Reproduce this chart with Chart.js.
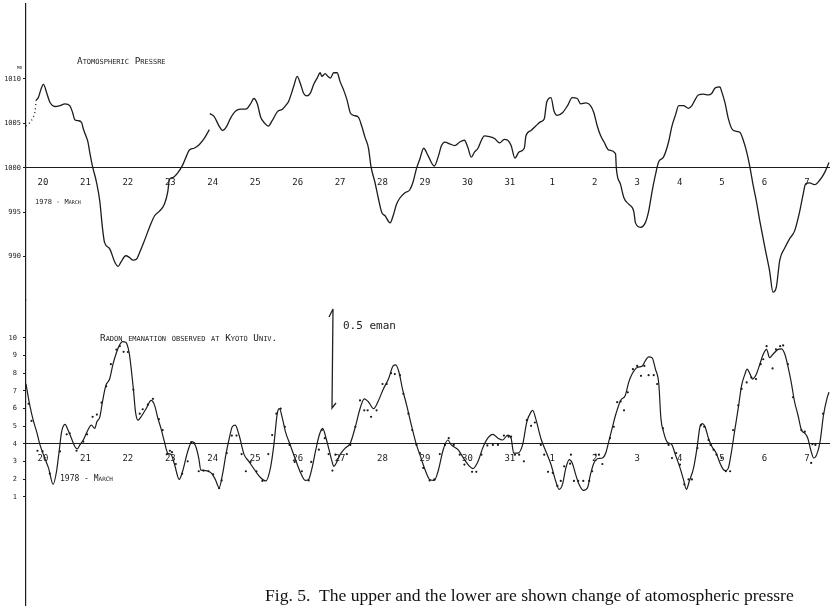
<!DOCTYPE html>
<html>
<head>
<meta charset="UTF-8">
<title>Atomospheric pressure and radon emanation, March 1978</title>
<script src="https://cdn.jsdelivr.net/npm/chart.js"></script>
<style>
    body { margin: 0; background: #fff; }
    #wrap { position: relative; width: 833px; height: 609px; overflow: hidden; background: #fff; }
    #chart { position: absolute; left: 0; top: 0; }
    #marks { position: absolute; left: 0; top: 0; }
    .note { position: absolute; color: #222; white-space: pre; line-height: 1; }
    .sc { font-family: 'DejaVu Sans Mono', monospace; font-variant: small-caps; font-size: 7px; }
    .eman { font-family: 'DejaVu Sans Mono', monospace; font-size: 11px; }
    .caption { font-family: 'Liberation Serif', serif; font-size: 17.6px; color: #111; }
</style>
</head>
<body>
<div id="wrap">
    <canvas id="chart" width="833" height="609"></canvas>
    <svg id="marks" width="833" height="609">
        <path d="M329 317 L333 309 L332 408 L336 403" fill="none" stroke="#222" stroke-width="1.3"/>
    </svg>
    <div class="note sc" style="left:17px; top:64px; font-size:6px;">mb</div>
    <div class="note sc" style="left:77px; top:56px; font-size:9.4px;">Atomospheric Pressre</div>
    <div class="note sc" style="left:35px; top:199px;">1978 - March</div>
    <div class="note sc" style="left:100px; top:333px; font-size:9.4px;">Radon emanation observed at Kyoto Univ.</div>
    <div class="note sc" style="left:60px; top:475px; font-size:8px;">1978 - March</div>
    <div class="note eman" style="left:343px; top:320px;">0.5 eman</div>
    <div class="note caption" style="left:265px; top:587px;">Fig. 5.  The upper and the lower are shown change of atomospheric pressre</div>
</div>

<script>
    // day labels, 20 March .. 7 April (index 0 = "20")
    const dayLabels = ['20', '21', '22', '23', '24', '25', '26', '27', '28', '29', '30', '31',
                       '1', '2', '3', '4', '5', '6', '7'];
    const pressTicks = [990, 995, 1000, 1005, 1010];
    const radonTicks = [1, 2, 3, 4, 5, 6, 7, 8, 9, 10];

    // atmospheric pressure (mb), solid trace; null = break in the record
    const pressDays = [-0.16, -0.11, -0.05, 0.01, 0.09, 0.16, 0.28, 0.40, 0.52, 0.63, 0.70, 0.75, 0.83, 0.91, 0.95,
        1.01, 1.06, 1.10, 1.17, 1.26, 1.34, 1.40, 1.45, 1.57, 1.69, 1.77, 1.84, 1.95, 2.04, 2.12, 2.20, 2.28, 2.39,
        2.51, 2.63, 2.74, 2.86, 2.94, 2.98, 3.06, 3.17, 3.29, 3.37, 3.45, 3.56, 3.68, 3.80, 3.92, 3.925,
        3.93, 4.03, 4.15, 4.23, 4.32, 4.42, 4.54, 4.66, 4.78, 4.89, 4.97, 5.05, 5.13, 5.21, 5.31, 5.40, 5.52, 5.64,
        5.75, 5.79, 5.91, 5.99, 6.07, 6.14, 6.22, 6.30, 6.38, 6.46, 6.53, 6.57, 6.65, 6.71, 6.77, 6.85, 6.93, 7.00,
        7.08, 7.16, 7.24, 7.32, 7.43, 7.51, 7.59, 7.67, 7.73, 7.82, 7.90, 7.98, 8.06, 8.18, 8.25, 8.33, 8.41, 8.53,
        8.64, 8.72, 8.80, 8.88, 8.97, 9.07, 9.22, 9.31, 9.39, 9.47, 9.58, 9.70, 9.82, 9.93, 10.01, 10.09, 10.17,
        10.25, 10.33, 10.40, 10.52, 10.64, 10.76, 10.87, 10.95, 11.03, 11.12, 11.22, 11.34, 11.38, 11.50, 11.61,
        11.73, 11.81, 11.87, 11.97, 12.04, 12.12, 12.24, 12.36, 12.47, 12.59, 12.67, 12.79, 12.90, 12.98, 13.06,
        13.14, 13.22, 13.33, 13.49, 13.51, 13.61, 13.69, 13.80, 13.92, 13.96, 14.08, 14.19, 14.27, 14.35, 14.43,
        14.51, 14.62, 14.74, 14.82, 14.90, 14.98, 15.09, 15.21, 15.29, 15.37, 15.44, 15.56, 15.68, 15.76, 15.84,
        15.95, 15.99, 16.07, 16.15, 16.23, 16.34, 16.42, 16.50, 16.58, 16.66, 16.73, 16.81, 16.89, 17.01, 17.12,
        17.20, 17.28, 17.36, 17.48, 17.59, 17.71, 17.83, 17.91, 17.97, 18.06, 18.18, 18.30, 18.41, 18.52];
    const pressValues = [1007.6, 1007.9, 1008.8, 1009.4, 1008.4, 1007.4, 1006.9, 1007.0, 1007.2, 1007.0, 1006.2,
        1005.4, 1005.3, 1005.1, 1004.4, 1003.6, 1002.9, 1001.8, 1000.1, 998.4, 996.2, 993.3, 991.6, 990.9, 989.4,
        988.9, 989.4, 990.1, 989.9, 989.6, 989.7, 990.5, 991.8, 993.3, 994.6, 995.1, 995.9, 997.3, 998.7, 998.9,
        999.4, 1000.3, 1001.2, 1002.0, 1002.2, 1002.6, 1003.3, 1004.3, null,
        1006.1, 1005.8, 1004.7, 1004.2, 1004.6, 1005.6, 1006.4, 1006.6, 1006.6, 1007.2, 1007.8, 1007.2, 1005.7,
        1005.1, 1004.7, 1005.3, 1006.3, 1006.6, 1007.2, 1007.5, 1009.2, 1010.3, 1009.4, 1008.4, 1008.1, 1008.4,
        1009.4, 1010.1, 1010.7, 1010.3, 1010.6, 1010.3, 1010.1, 1010.7, 1010.7, 1009.7, 1008.8, 1007.7, 1006.2,
        1005.9, 1005.7, 1004.7, 1003.4, 1002.2, 1000.1, 998.4, 996.6, 995.0, 994.6, 993.8, 994.6, 995.9, 996.6,
        997.2, 997.5, 998.4, 999.9, 1001.0, 1002.2, 1001.4, 1000.2, 1001.2, 1002.5, 1002.9, 1002.7, 1002.5, 1002.9,
        1003.1, 1002.3, 1001.2, 1001.8, 1002.2, 1003.1, 1003.6, 1003.5, 1003.3, 1002.8, 1003.2, 1003.1, 1002.5,
        1001.1, 1001.8, 1002.2, 1003.6, 1004.2, 1004.7, 1005.2, 1005.5, 1007.4, 1007.9, 1006.4, 1005.9, 1006.2,
        1007.0, 1007.9, 1007.8, 1007.2, 1007.3, 1007.0, 1006.2, 1004.7, 1003.6, 1002.9, 1002.0, 1001.6, 999.9,
        998.1, 996.6, 995.9, 995.1, 993.8, 993.3, 993.8, 995.1, 997.3, 999.2, 1000.7, 1001.2, 1002.9, 1004.7,
        1005.9, 1007.0, 1007.0, 1006.7, 1007.0, 1007.7, 1008.2, 1008.3, 1008.2, 1008.4, 1009.0, 1009.1, 1008.6,
        1007.3, 1005.5, 1004.4, 1004.1, 1004.0, 1003.1, 1001.8, 1000.0, 998.1, 996.2, 994.0, 991.0, 988.4, 986.0,
        986.6, 989.6, 991.0, 992.0, 992.9, 995.1, 997.0, 998.2, 998.3, 998.1, 998.6, 999.4, 1000.6];

    // dotted lead-in at the start of the pressure record
    const pressLeadDays = [-0.40, -0.31, -0.23, -0.19, -0.16];
    const pressLeadValues = [1004.7, 1005.1, 1005.7, 1006.3, 1007.6];

    // radon emanation, smoothed trace
    const radonDays = [-0.40, -0.31, -0.23, -0.15, -0.07, 0.01, 0.13, 0.24, 0.32, 0.38, 0.44, 0.52, 0.59, 0.67, 0.75,
        0.81, 0.87, 0.95, 1.04, 1.14, 1.22, 1.27, 1.34, 1.40, 1.48, 1.57, 1.65, 1.73, 1.81, 1.87, 1.95, 2.03, 2.08,
        2.13, 2.18, 2.24, 2.31, 2.43, 2.55, 2.63, 2.71, 2.78, 2.86, 2.94, 3.02, 3.10, 3.21, 3.29, 3.41, 3.51, 3.60,
        3.67, 3.72, 3.84, 3.96, 4.06, 4.15, 4.23, 4.31, 4.39, 4.46, 4.53, 4.62, 4.74, 4.85, 5.01, 5.13, 5.25, 5.36,
        5.44, 5.52, 5.57, 5.64, 5.71, 5.83, 5.95, 6.07, 6.18, 6.26, 6.34, 6.42, 6.51, 6.59, 6.67, 6.75, 6.81, 6.85,
        6.93, 7.00, 7.12, 7.24, 7.36, 7.47, 7.57, 7.67, 7.79, 7.89, 8.02, 8.14, 8.25, 8.31, 8.39, 8.47, 8.57, 8.68,
        8.80, 8.88, 9.00, 9.11, 9.22, 9.31, 9.43, 9.54, 9.62, 9.78, 9.93, 10.05, 10.13, 10.25, 10.36, 10.48, 10.60,
        10.72, 10.83, 10.95, 11.03, 11.09, 11.19, 11.30, 11.40, 11.50, 11.54, 11.61, 11.73, 11.85, 11.97, 12.08,
        12.16, 12.24, 12.32, 12.40, 12.47, 12.55, 12.63, 12.73, 12.83, 12.90, 12.98, 13.06, 13.18, 13.26, 13.33,
        13.41, 13.49, 13.61, 13.72, 13.80, 13.88, 14.00, 14.12, 14.19, 14.27, 14.35, 14.43, 14.51, 14.56, 14.62,
        14.70, 14.82, 14.90, 15.01, 15.09, 15.16, 15.23, 15.33, 15.41, 15.48, 15.54, 15.60, 15.68, 15.76, 15.86,
        15.95, 16.03, 16.09, 16.15, 16.23, 16.30, 16.38, 16.46, 16.54, 16.59, 16.66, 16.72, 16.81, 16.89, 16.97,
        17.05, 17.12, 17.20, 17.32, 17.40, 17.48, 17.55, 17.63, 17.71, 17.79, 17.87, 17.95, 18.02, 18.10, 18.16,
        18.23, 18.31, 18.39, 18.47, 18.52];
    const radonValues = [7.38, 6.17, 5.33, 4.68, 3.93, 3.38, 2.63, 1.70, 2.44, 3.56, 4.68, 5.09, 4.77, 4.31, 3.84,
        3.71, 3.93, 4.21, 4.68, 5.05, 4.87, 5.24, 5.52, 6.35, 7.29, 7.66, 8.50, 9.15, 9.61, 9.78, 9.74, 9.15, 8.22,
        7.10, 5.80, 5.33, 5.52, 5.98, 6.45, 6.17, 5.42, 4.87, 4.12, 3.47, 3.38, 2.82, 1.98, 2.44, 3.56, 4.12, 3.84,
        3.19, 2.50, 2.48, 2.35, 1.98, 1.51, 2.26, 3.38, 4.31, 4.96, 5.05, 4.49, 3.38, 3.00, 2.44, 2.07, 1.89, 2.63,
        3.93, 5.70, 5.98, 5.45, 4.70, 3.90, 3.10, 2.35, 1.92, 1.98, 2.63, 3.56, 4.49, 4.87, 4.31, 3.56, 3.00, 2.72,
        3.00, 3.38, 3.75, 4.03, 4.96, 5.98, 6.54, 6.36, 5.98, 6.36, 7.10, 7.66, 8.40, 8.46, 8.03, 7.10, 6.17, 5.05,
        3.93, 3.38, 2.54, 1.98, 1.92, 2.44, 3.66, 4.21, 3.93, 3.66, 3.10, 2.72, 2.59, 3.00, 3.75, 4.31, 4.53,
        4.31, 4.21, 4.49, 4.31, 3.47, 3.47, 3.93, 5.24, 5.80, 5.89, 5.42, 4.31, 3.56, 2.82, 1.89,
        1.42, 1.70, 2.63, 3.10, 2.91, 2.26, 1.70, 1.36, 1.51, 2.26, 2.91, 3.15, 3.19, 3.47, 4.12,
        4.87, 5.61, 6.45, 6.73, 7.47, 7.94, 8.31, 8.40, 8.68, 8.91, 8.87, 8.22, 7.38, 5.42, 4.68,
        4.12, 3.93, 3.38, 2.63, 1.98, 1.42, 1.89, 2.63, 3.75, 4.96, 5.14, 4.96, 4.31, 3.84, 3.47,
        2.91, 2.54, 2.48, 2.63, 3.66, 4.77, 5.98, 7.29, 7.94, 8.22, 7.94, 7.66, 7.94, 8.50, 9.06,
        9.34, 8.87, 9.06, 9.34, 9.37, 9.06, 8.40, 7.47, 6.36, 5.61, 4.77, 4.59, 4.31, 3.56, 3.19,
        3.38, 4.12, 5.61, 6.54, 6.91];

    // radon emanation, individual readings
    const radonDotDays = [-0.34, -0.27, -0.13, -0.01, 0.16, 0.40, 0.56, 0.63, 0.79, 0.95, 1.04, 1.17, 1.27, 1.38,
        1.49, 1.60, 1.73, 1.81, 1.90, 2.00, 2.13, 2.28, 2.35, 2.47, 2.59, 2.73, 2.82, 2.92, 2.99, 3.04, 3.13, 3.28,
        3.41, 3.49, 3.56, 3.67, 3.78, 3.90, 4.01, 4.15, 4.21, 4.33, 4.45, 4.56, 4.68, 4.78, 4.89, 5.03, 5.17, 5.31,
        5.40, 5.50, 5.60, 5.70, 5.81, 5.93, 6.10, 6.26, 6.32, 6.50, 6.57, 6.64, 6.73, 6.82, 6.89, 7.16, 7.24, 7.36,
        7.47, 7.57, 7.65, 7.73, 7.86, 8.00, 8.10, 8.20, 8.29, 8.41, 8.49, 8.61, 8.70, 8.80, 8.88, 8.96, 9.11, 9.22,
        9.35, 9.47, 9.56, 9.68, 9.82, 9.93, 10.11, 10.21, 10.33, 10.47, 10.60, 10.72, 10.86, 10.97, 11.03, 11.12,
        11.22, 11.33, 11.40, 11.50, 11.59, 11.73, 11.81, 11.90, 12.01, 12.12, 12.20, 12.28, 12.42, 12.44, 12.51,
        12.61, 12.73, 12.87, 12.94, 13.02, 13.10, 13.18, 13.36, 13.45, 13.53, 13.61, 13.69, 13.78, 13.90, 14.00,
        14.09, 14.17, 14.27, 14.39, 14.47, 14.61, 14.74, 14.82, 14.92, 15.01, 15.11, 15.21, 15.29, 15.42, 15.50,
        15.58, 15.68, 15.73, 15.80, 15.87, 15.99, 16.09, 16.19, 16.26, 16.38, 16.46, 16.58, 16.69, 16.80, 16.91,
        16.97, 17.05, 17.19, 17.27, 17.37, 17.44, 17.55, 17.67, 17.87, 17.95, 18.10, 18.13, 18.20, 18.38];
    const radonDotValues = [6.26, 5.29, 3.60, 3.56, 2.31, 3.56, 4.53, 4.59, 3.60, 4.12, 4.53, 5.52, 5.65, 6.32,
        7.25, 8.50, 9.33, 9.52, 9.20, 9.19, 7.06, 5.70, 5.95, 6.21, 6.54, 5.39, 4.77, 3.41, 3.60, 3.52, 2.85, 2.30,
        3.00, 4.08, 4.03, 2.44, 2.48, 2.44, 2.26, 1.48, 1.92, 3.47, 4.46, 4.46, 3.41, 2.44, 2.97, 2.44, 1.89, 3.41,
        4.49, 5.70, 5.98, 4.96, 3.93, 2.97, 2.44, 1.92, 2.97, 3.66, 4.77, 4.31, 3.41, 2.48, 3.38, 3.41, 3.93, 4.96,
        6.45, 5.89, 5.89, 5.52, 5.89, 7.38, 7.38, 7.99, 7.94, 7.88, 6.82, 5.70, 4.77, 3.93, 3.47, 2.63, 1.92, 1.98,
        3.41, 3.93, 4.31, 3.93, 3.38, 2.82, 2.41, 2.41, 3.38, 3.90, 3.93, 3.93, 4.46, 4.40, 4.40, 3.38,
        3.38, 3.00, 5.33, 5.01, 5.20, 3.93, 3.38, 2.41, 2.35, 1.61, 1.89, 2.72, 2.87, 3.38, 1.89,
        1.89, 1.89, 1.89, 2.44, 3.38, 3.38, 2.85, 4.31, 4.96, 6.35, 6.39, 5.89, 6.91, 8.22, 8.40,
        7.84, 8.40, 7.88, 7.88, 7.38, 4.87, 3.93, 3.19, 3.47, 2.82, 1.70, 1.98, 1.98, 3.75, 5.05,
        4.96, 4.21, 3.93, 3.66, 3.38, 3.19, 2.44, 2.44, 4.77, 6.17, 7.10, 7.47, 7.75, 7.66, 8.50,
        8.78, 9.52, 8.26, 9.34, 9.52, 9.56, 8.50, 6.63, 4.77, 4.68, 2.91, 3.97, 3.93, 5.70];

    const ink = '#1c1c1c';
    const monoSmall = { family: "'DejaVu Sans Mono', monospace", size: 7 };
    const monoDays = { family: "'DejaVu Sans Mono', monospace", size: 9 };

    function pts(xs, ys) {
        return xs.map((x, i) => ({ x: x, y: ys[i] }));
    }

    // baseline axis carrying the day labels, pinned to a value of one y scale
    function dayAxis(yId, baseValue, pad) {
        return {
            type: 'linear',
            axis: 'x',
            min: -0.40,
            max: 18.52,
            position: { [yId]: baseValue },
            grid: { display: false, drawTicks: false },
            border: { color: ink, width: 1.1 },
            ticks: {
                color: ink, font: monoDays, padding: pad, maxRotation: 0, autoSkip: false,
                callback: (v) => dayLabels[v]
            },
            afterBuildTicks: (s) => { s.ticks = dayLabels.map((_, i) => ({ value: i })); },
            afterFit: (s) => { s.paddingLeft = 0; s.paddingRight = 0; }
        };
    }

    function sideAxis(min, max, tickValues, share, order, pad) {
        return {
            type: 'linear',
            position: 'left',
            stack: 'side',
            stackWeight: share,
            weight: order,
            min: min,
            max: max,
            grid: { drawOnChartArea: false, drawTicks: true, tickLength: 3, color: ink },
            border: { color: ink, width: 1.2 },
            ticks: { color: ink, font: monoSmall, padding: pad, autoSkip: false, callback: (v) => String(v) },
            afterBuildTicks: (s) => { s.ticks = tickValues.map((v) => ({ value: v })); },
            afterFit: (s) => { s.width = 26; s.paddingTop = 0; s.paddingBottom = 0; }
        };
    }

    new Chart(document.getElementById('chart'), {
        type: 'line',
        data: {
            datasets: [
                {
                    data: pts(pressDays, pressValues),
                    xAxisID: 'x', yAxisID: 'yP',
                    borderColor: ink, borderWidth: 1.3, pointRadius: 0,
                    cubicInterpolationMode: 'monotone', spanGaps: false, clip: false
                },
                {
                    data: pts(pressLeadDays, pressLeadValues),
                    xAxisID: 'x', yAxisID: 'yP',
                    borderColor: ink, borderWidth: 1.3, borderDash: [1, 3], pointRadius: 0,
                    cubicInterpolationMode: 'monotone', clip: false
                },
                {
                    data: pts(radonDays, radonValues),
                    xAxisID: 'x', yAxisID: 'yR',
                    borderColor: ink, borderWidth: 1.2, pointRadius: 0,
                    cubicInterpolationMode: 'monotone', clip: false
                },
                {
                    data: pts(radonDotDays, radonDotValues),
                    xAxisID: 'x', yAxisID: 'yR',
                    showLine: false, pointRadius: 1.1, pointBackgroundColor: ink, pointBorderWidth: 0,
                    clip: false
                }
            ]
        },
        options: {
            responsive: false,
            animation: false,
            events: [],
            layout: { padding: 0 },
            plugins: { legend: { display: false }, tooltip: { enabled: false } },
            scales: {
                x: dayAxis('yP', 1000, 9),
                x2: dayAxis('yR', 4, 10),
                yP: sideAxis(985.11, 1018.44, pressTicks, 300, 2, 2),
                yR: sideAxis(-5.13, 12.13, radonTicks, 309, 1, 6)
            }
        }
    });
</script>
</body>
</html>
